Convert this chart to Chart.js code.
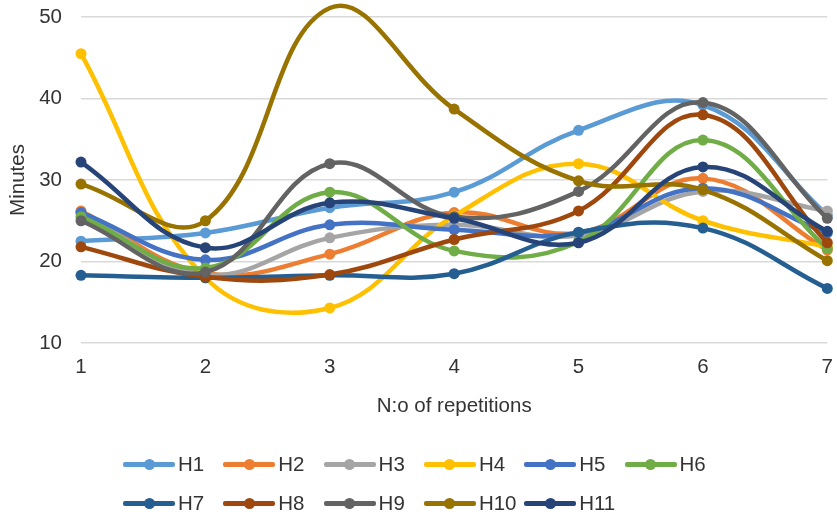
<!DOCTYPE html>
<html>
<head>
<meta charset="UTF-8">
<title>Minutes per repetition</title>
<script src="https://cdn.jsdelivr.net/npm/chart.js"></script>
<style>
  body { margin: 0; background: #fff; }
  #wrap { position: relative; width: 837px; height: 516px; }
  #chart { position: absolute; left: 0; top: 0; }
  #legend { position: absolute; left: 0; top: 0; width: 837px; height: 516px; pointer-events: none;
            font-family: "Liberation Sans", Arial, sans-serif; font-size: 20.5px; color: #333; }
  .item { position: absolute; height: 24px; }
  .item .ln { position: absolute; left: 0; top: 10px; width: 52px; height: 4.5px; border-radius: 2px; }
  .item .dot { position: absolute; left: 20.5px; top: 6.5px; width: 11px; height: 11px; border-radius: 50%; }
  .item .tx { position: absolute; left: 55px; top: 0; line-height: 24px; white-space: nowrap; }
</style>
</head>
<body>
<div id="wrap">
  <canvas id="chart" width="837" height="430"></canvas>
  <div id="legend"></div>
</div>
<script>
const reps = ['1', '2', '3', '4', '5', '6', '7'];
const names = ['H1', 'H2', 'H3', 'H4', 'H5', 'H6', 'H7', 'H8', 'H9', 'H10', 'H11'];
const colors = ['#5B9BD5', '#ED7D31', '#A5A5A5', '#FFC000', '#4472C4', '#70AD47',
                '#255E91', '#9E480E', '#636363', '#997300', '#264478'];

const h1 = [22.5, 23.5, 26.6, 28.5, 36.1, 39.2, 25.7];
const h2 = [26.2, 18.6, 20.9, 26.0, 23.5, 30.2, 21.4];
const h3 = [26.0, 18.4, 22.9, 24.5, 23.2, 28.6, 26.2];
const h4 = [45.5, 18.0, 14.3, 25.6, 32.0, 25.0, 21.8];
const h5 = [26.0, 20.2, 24.5, 23.9, 23.5, 29.0, 23.5];
const h6 = [25.5, 19.2, 28.5, 21.3, 22.4, 34.9, 21.6];
const h7 = [18.3, 18.0, 18.3, 18.5, 23.6, 24.1, 16.7];
const h8 = [21.8, 18.1, 18.4, 22.7, 26.2, 38.0, 22.3];
const h9 = [25.0, 18.7, 32.0, 25.5, 28.6, 39.5, 25.3];
const h10 = [29.5, 25.0, 51.1, 38.7, 29.9, 28.8, 20.1];
const h11 = [32.2, 21.7, 27.2, 25.3, 22.3, 31.6, 23.7];

const yTicks = [10, 20, 30, 40, 50];

const series = [h1, h2, h3, h4, h5, h6, h7, h8, h9, h10, h11];
const font = { family: '"Liberation Sans", Arial, sans-serif', size: 20.5 };
const textColor = '#333';

const datasets = series.map((vals, i) => ({
  label: names[i],
  data: vals,
  borderColor: colors[i],
  backgroundColor: colors[i],
  borderWidth: 4.5,
  pointRadius: 5.5,
  pointBorderWidth: 0,
  tension: 0.4,
  clip: false,
  order: series.length - i   // later series drawn on top
}));

new Chart(document.getElementById('chart'), {
  type: 'line',
  data: { labels: reps, datasets: datasets },
  options: {
    responsive: false,
    animation: false,
    layout: { padding: { top: 17, right: 0, left: 0, bottom: 0 } },
    plugins: { legend: { display: false }, tooltip: { enabled: false } },
    scales: {
      x: {
        offset: false,
        grid: { display: false },
        border: { display: false },
        ticks: { color: textColor, font: font, padding: 4, maxRotation: 0 },
        title: { display: true, text: 'N:o of repetitions', color: textColor, font: font,
                 padding: { top: 0, bottom: 11 } },
        afterFit: s => { s.height = 430 - 343; }
      },
      y: {
        min: 10, max: 50,
        afterBuildTicks: s => { s.ticks = yTicks.map(v => ({ value: v })); },
        // invisible tick marks give the gap between labels and plot
        grid: { color: '#D9D9D9', lineWidth: 1.5, drawTicks: true, tickLength: 19, tickColor: 'rgba(0,0,0,0)' },
        border: { display: false },
        ticks: { color: textColor, font: font, padding: 0 },
        title: { display: true, text: 'Minutes', color: textColor, font: font,
                 padding: { top: 6, bottom: 0 } },
        afterFit: s => { s.width = 81; }
      }
    }
  }
});

// legend: two rows, left aligned at the same start
const leg = document.getElementById('legend');
names.forEach((n, i) => {
  const row = Math.floor(i / 6), col = i % 6;
  const it = document.createElement('div');
  it.className = 'item';
  it.style.left = (123 + col * 100.3) + 'px';
  it.style.top = ((row === 0 ? 464 : 503) - 12) + 'px';
  it.innerHTML = '<div class="ln" style="background:' + colors[i] + '"></div>' +
                 '<div class="dot" style="background:' + colors[i] + '"></div>' +
                 '<div class="tx">' + n + '</div>';
  leg.appendChild(it);
});
</script>
</body>
</html>
